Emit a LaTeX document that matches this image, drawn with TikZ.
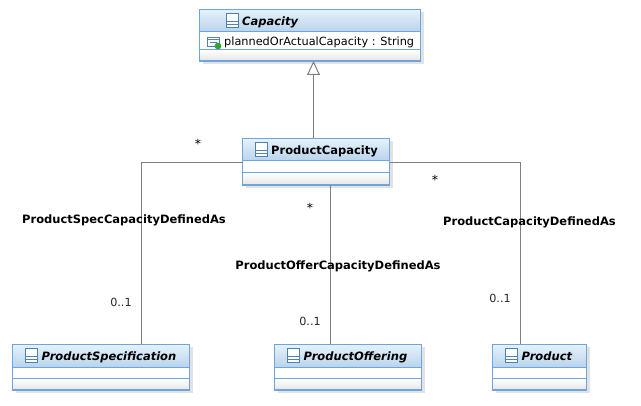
\documentclass[tikz,border=0pt]{standalone}
\usepackage{fontspec}
\setmainfont{DejaVu Sans}
\usetikzlibrary{arrows.meta,calc}
\definecolor{umlborder}{HTML}{6FA5DE}
\definecolor{umlline}{HTML}{808080}
\definecolor{iconblue}{HTML}{4F81B5}
\definecolor{headtop}{HTML}{E4F1FC}
\definecolor{headbot}{HTML}{B9D3EA}
\definecolor{shadowgrey}{HTML}{E2E2E2}
\tikzset{
  umlbox/.style={draw=umlborder,line width=1pt,anchor=north west,inner sep=0pt,outer sep=0pt,fill=white},
  conn/.style={draw=umlline,line width=1pt},
  gen/.style={conn,-{Triangle[open,fill=white,length=14pt,width=13pt]}},
  mult/.style={font=\fontsize{11.2pt}{13pt}\selectfont,text=black!85,inner sep=0pt},
  star/.style={font=\fontsize{12.5pt}{13pt}\selectfont,text=black,inner sep=0pt},
  assoc/.style={font=\fontsize{11.5pt}{13pt}\selectfont\bfseries,text=black,inner sep=0pt},
  title/.style={font=\fontsize{11.5pt}{13pt}\selectfont\bfseries,text=black,inner sep=0pt,anchor=west},
  attr/.style={font=\fontsize{11.3pt}{13pt}\selectfont,text=black,inner sep=0pt,anchor=west},
}
% name, x, y, w, h, header bottom, compartment line (y), title x, title text
\newcommand{\umlclass}[9]{%
  \fill[shadowgrey] (#2+3,#3+3) rectangle (#2+#4+3,#3+#5+3);
  \node[umlbox,minimum width=#4pt,minimum height=#5pt] (#1) at (#2,#3) {};
  \path[top color=white,bottom color=black!10] (#2+.5,#7) rectangle (#2+#4-.5,#3+#5-.5);
  \path[top color=headtop,bottom color=headbot] (#2+.5,#3+.5) rectangle (#2+#4-.5,#6);
  \draw[umlborder,line width=1pt] (#2,#6) -- (#2+#4,#6) (#2,#7) -- (#2+#4,#7);
  \draw[umlborder,line width=1.1pt] (#2,#3) rectangle (#2+#4,#3+#5);
  \draw[iconblue,line width=.9pt,fill=white] (#8-16,#3+4) rectangle (#8-4,#3+18);
  \draw[iconblue,line width=.9pt] (#8-16,#3+11.5) -- (#8-4,#3+11.5) (#8-16,#3+14.8) -- (#8-4,#3+14.8);
  \node[title] (#1t) at (#8,#3+13) {\strut #9};
}
\begin{document}
\begin{tikzpicture}[x=1pt,y=-1pt]
\useasboundingbox (0,0) rectangle (641,406);
\fill[white] (0,0) rectangle (641,406);
\umlclass{cap}{199.5}{9.5}{221}{51.5}{32}{50}{242}{\itshape Capacity}
\umlclass{pc}{242.5}{138.5}{147}{46.5}{161}{173}{271}{ProductCapacity}
\umlclass{ps}{12.5}{344.5}{177}{45.5}{367.5}{378.5}{41.5}{\itshape ProductSpecification}
\umlclass{po}{274.5}{344.5}{147}{45.5}{367.5}{378.5}{303.5}{\itshape ProductOffering}
\umlclass{pr}{492.5}{344.5}{94}{45.5}{367.5}{378.5}{521.5}{\itshape Product}
% attribute
\draw[iconblue,line width=.8pt,fill=white] (207.5,37) rectangle (219.5,46.5);
\draw[iconblue,line width=.8pt] (207.5,39.5) -- (219.5,39.5) (210,42) -- (217,42);
\fill[green!55!black!80] (218,46) circle (3.4);
\node[attr] (attrtext) at (224,42.5) {\strut plannedOrActualCapacity : String};
% connection points
\coordinate (capB) at (313.5,61);
\coordinate (pcT) at (313.5,138.5);
\coordinate (pcB) at (330.5,185);
\coordinate (pcL) at (242.5,162.5);
\coordinate (pcR) at (389.5,162.5);
\coordinate (psT) at (141.5,344.5);
\coordinate (poT) at (330.5,344.5);
\coordinate (prT) at (520.5,344.5);
\draw[gen] (pcT) -- (capB);
\draw[conn] (pcL) -| (psT);
\draw[conn] (pcB) -- (poT);
\draw[conn] (pcR) -| (prT);
% labels
\node[star] (s1) at (198,144) {*};
\node[star] (s2) at (310,208) {*};
\node[star] (s3) at (435,180) {*};
\node[mult] (m1) at (121,302) {0..1};
\node[mult] (m2) at (310,321) {0..1};
\node[mult] (m3) at (500,298) {0..1};
\node[assoc] (a1) at (124,220) {ProductSpecCapacityDefinedAs};
\node[assoc] (a2) at (338,266) {ProductOfferCapacityDefinedAs};
\node[assoc] (a3) at (529.5,222) {ProductCapacityDefinedAs};
\end{tikzpicture}
\end{document}
